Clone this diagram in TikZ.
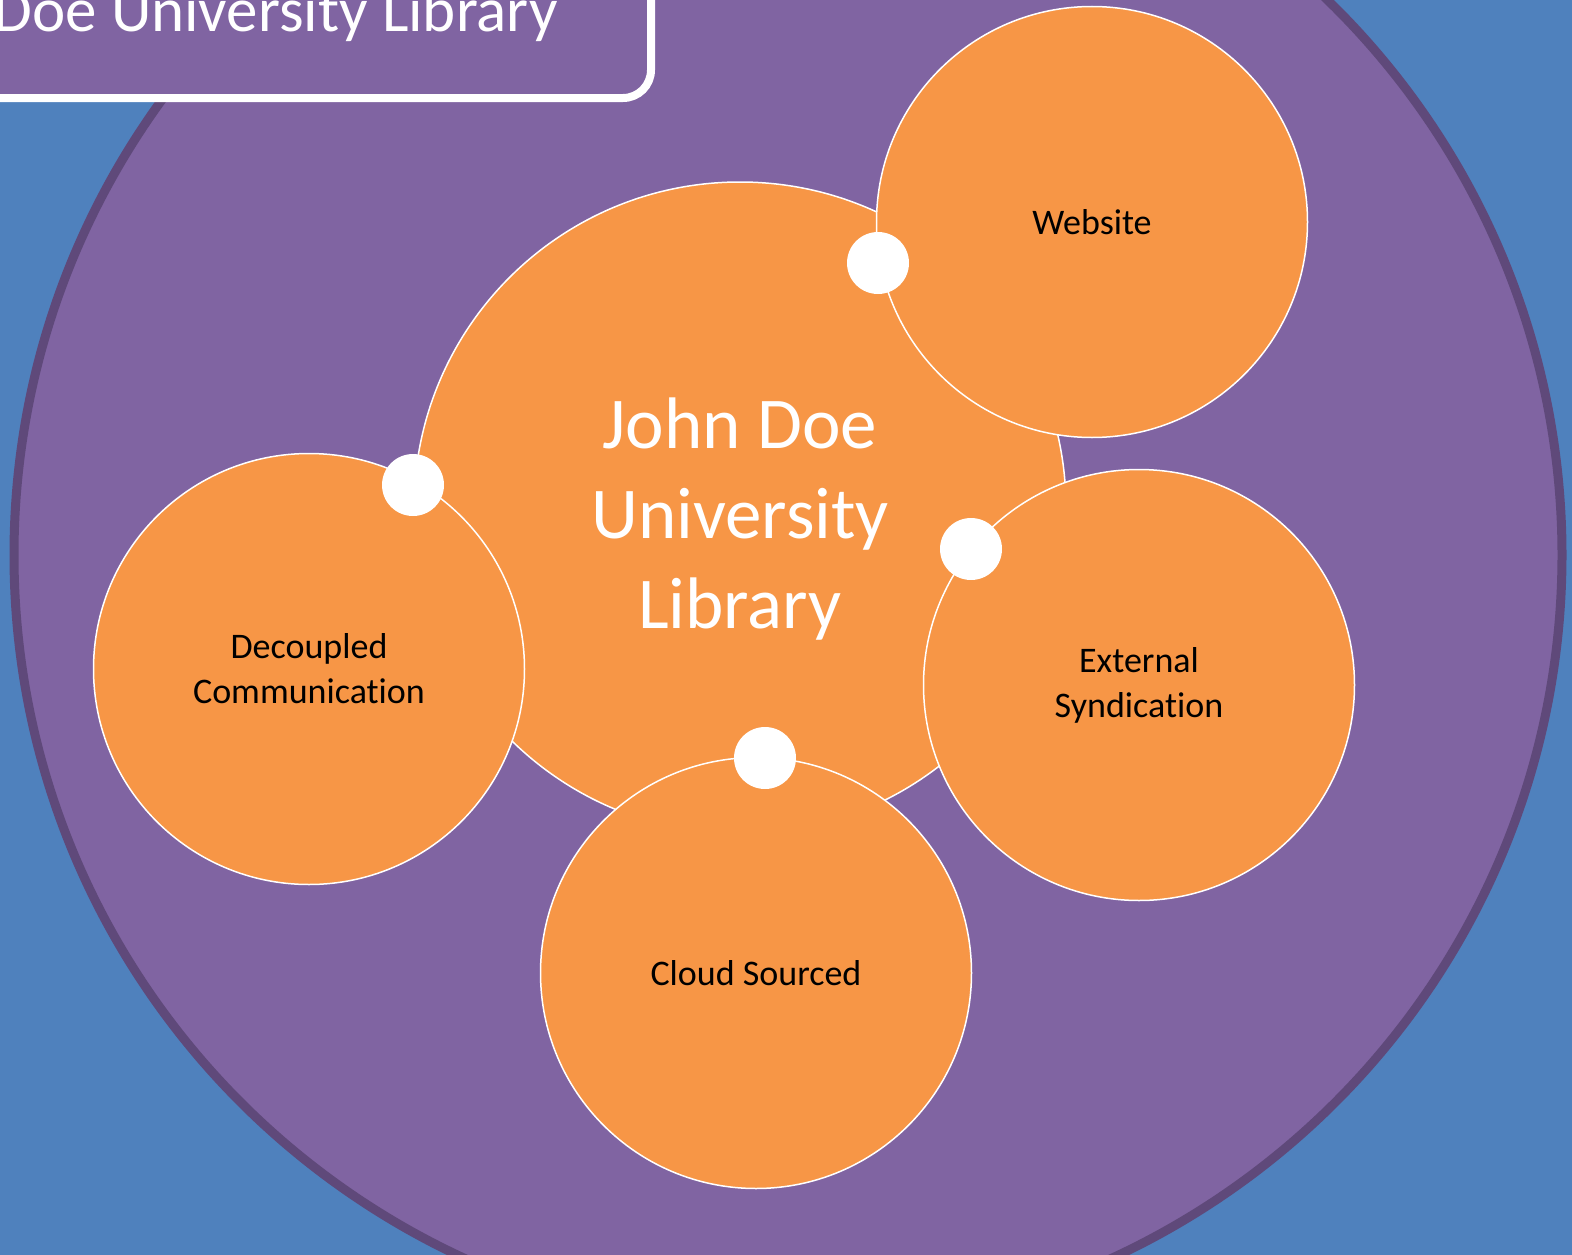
\documentclass[tikz,border=0pt]{standalone}
\usepackage{fontspec}
\setmainfont{Carlito}[Ligatures=NoCommon]
\definecolor{bg}{HTML}{4F81BD}
\definecolor{purp}{HTML}{8064A2}
\definecolor{purpdark}{HTML}{5F497A}
\definecolor{orng}{HTML}{F79646}
\begin{document}
\begin{tikzpicture}[x=1pt,y=-1pt,
  sat/.style={circle, draw=white, line width=1.5pt, fill=orng, minimum size=431pt,
    inner sep=0pt, align=center, font=\fontsize{36}{45}\selectfont, text=black},
  hubstyle/.style={circle, draw=white, line width=1.5pt, fill=orng, minimum size=652pt,
    inner sep=0pt},
  hubtextstyle/.style={inner sep=0pt, align=center, font=\fontsize{73}{90}\selectfont, text=white},
  dotstyle/.style={circle, fill=white, minimum size=62pt, inner sep=0pt}]
\fill[bg] (0,0) rectangle (1572,1255);
\useasboundingbox (0,0) rectangle (1572,1255);
\node[circle, fill=purp, draw=purpdark, line width=9pt, minimum size=1548pt, inner sep=0pt] (ring) at (788,555) {};
\draw[fill=purp, draw=white, line width=8pt, rounded corners=28pt] (-60,-60) rectangle (651,98);
\node[anchor=base east, text=white, font=\fontsize{63}{76}\selectfont, inner sep=0pt] (title) at (558,32) {John Doe University Library};
\node[hubstyle] (hub) at (740,508) {};
\node[hubtextstyle] (hubtext) at (740,519) {John Doe\\University\\Library};
\node[sat] (web) at (1092,222) {Website};
\node[sat] (dec) at (309,669) {Decoupled\\Communication};
\node[sat] (ext) at (1139,685) {External\\Syndication};
\node[sat] (cloud) at (756,973) {Cloud Sourced};
\node[dotstyle] (dweb) at (878,263) {};
\node[dotstyle] (ddec) at (413,485) {};
\node[dotstyle] (dext) at (971,549) {};
\node[dotstyle] (dcloud) at (765,758) {};
\end{tikzpicture}
\end{document}
